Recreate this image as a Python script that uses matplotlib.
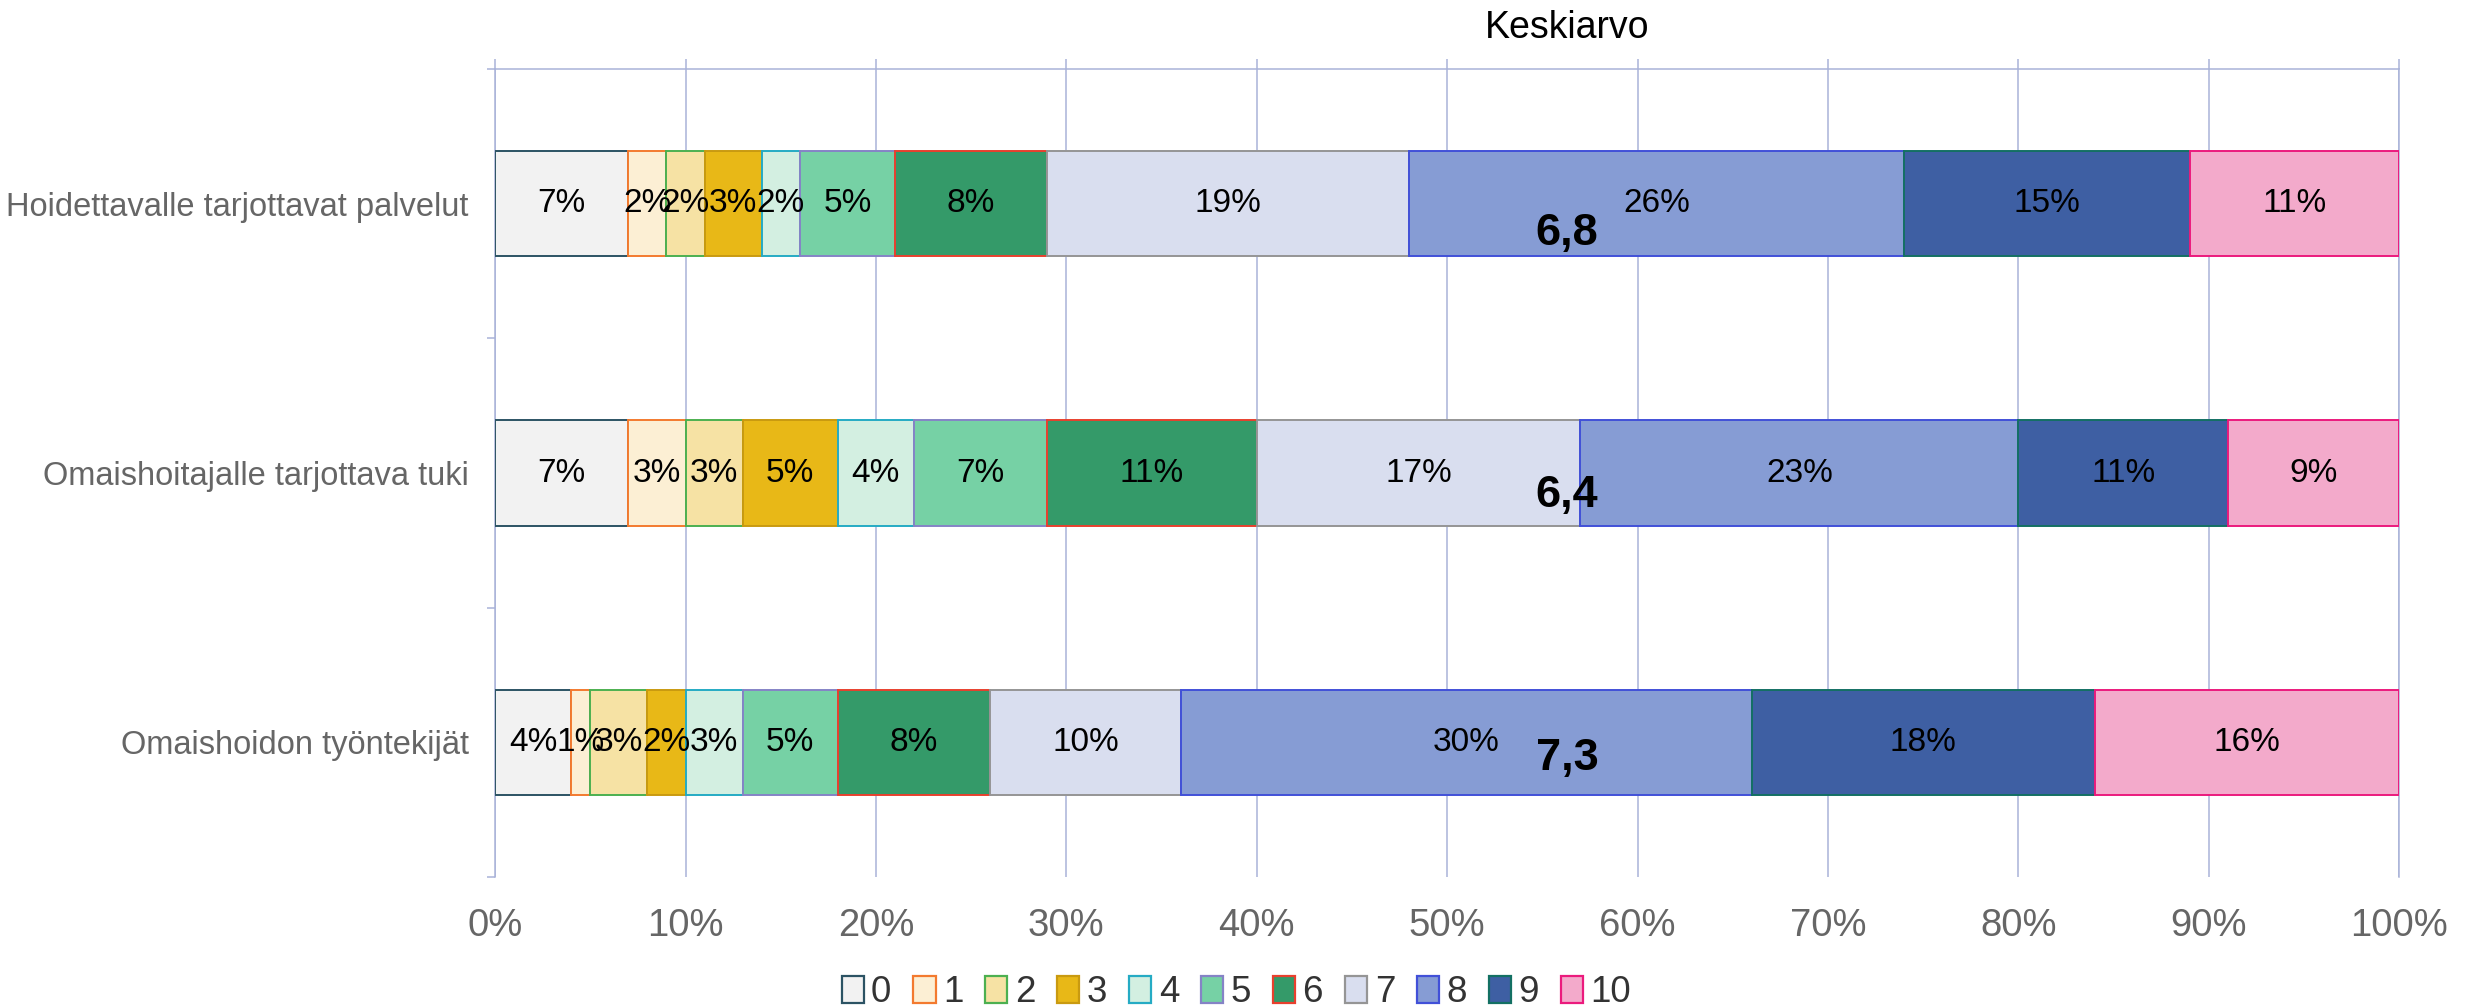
import matplotlib
matplotlib.use("Agg")
import matplotlib.pyplot as plt
import numpy as np
from matplotlib.patches import Patch

categories = [
    "Hoidettavalle tarjottavat palvelut",
    "Omaishoitajalle tarjottava tuki",
    "Omaishoidon työntekijät",
]
scores = ["0", "1", "2", "3", "4", "5", "6", "7", "8", "9", "10"]
# osuudet (%) arvosanoittain, rivit = kategoriat
shares = [
    [7, 2, 2, 3, 2, 5, 8, 19, 26, 15, 11],
    [7, 3, 3, 5, 4, 7, 11, 17, 23, 11, 9],
    [4, 1, 3, 2, 3, 5, 8, 10, 30, 18, 16],
]
means = [6.8, 6.4, 7.3]
x_ticks = [0, 10, 20, 30, 40, 50, 60, 70, 80, 90, 100]

fills = ["#F2F2F2", "#FCEFD4", "#F6E2A4", "#E8B817", "#D3EFE1", "#76D1A5",
         "#349A69", "#D9DEEF", "#869CD4", "#3E5FA3", "#F3AACB"]
edges = ["#2C5364", "#F37A2F", "#4CB050", "#C99A10", "#25ABC4", "#8583C6",
         "#E8402E", "#959595", "#4150D8", "#137063", "#EB1A7D"]
grid_col = "#A9B3D9"
font = "Liberation Sans"

fig = plt.figure(figsize=(24.73, 10.08), dpi=100)
ax = fig.add_axes([0.2002, 0.130, 0.770, 0.8015])

data = np.array(shares, dtype=float)
ypos = np.arange(len(categories))
left = np.zeros(len(categories))
for j, lab in enumerate(scores):
    vals = data[:, j]
    bars = ax.barh(ypos, vals, left=left, height=0.39, color=fills[j],
                   edgecolor=edges[j], linewidth=1.4, label=lab, zorder=3)
    ax.bar_label(bars, labels=[f"{v:.0f}%" for v in vals], label_type="center",
                 fontsize=24, family=font, color="black", zorder=4)
    left += vals

# keskiarvot omaan sarakkeeseensa
mean_x = 56.3
mean_dy = [0.11, 0.085, 0.06]
for i, m in enumerate(means):
    ax.text(mean_x, ypos[i] + mean_dy[i], f"{m:.1f}".replace(".", ","),
            ha="center", va="center", fontsize=32.5, fontweight="bold",
            family=font, color="black", zorder=5)
fig.text(0.6336, 0.972, "Keskiarvo", ha="center", va="center",
         fontsize=27, family=font, color="black")

ax.set_xlim(0, 100)
ax.set_ylim(len(categories) - 0.5, -0.5)
ax.set_xticks(x_ticks)
ax.set_xticklabels([f"{t}%" for t in x_ticks], family=font, fontsize=27.5,
                   color="#666666")
ax.set_yticks(ypos)
ax.set_yticklabels(categories, family=font, fontsize=23.5, color="#666666")
ax.set_yticks(np.arange(len(categories) + 1) - 0.5, minor=True)

ax.grid(axis="x", color=grid_col, linewidth=1.1, zorder=0)
ax.tick_params(axis="x", which="major", bottom=False, top=True, labelbottom=True,
               labeltop=False, length=7, width=1.1, color=grid_col, pad=15)
ax.tick_params(axis="y", which="major", length=0, pad=19)
ax.tick_params(axis="y", which="minor", length=6, width=1.1, color=grid_col)
for side in ["top", "left", "right"]:
    ax.spines[side].set_color(grid_col)
    ax.spines[side].set_linewidth(1.1)
ax.spines["bottom"].set_visible(False)

handles = [Patch(facecolor=fills[j], edgecolor=edges[j], linewidth=1.6)
           for j in range(len(scores))]
fig.legend(handles, scores, loc="center", bbox_to_anchor=(0.5, 0.015), ncol=11,
           frameon=False, prop={"family": font, "size": 26.5}, labelcolor="#333333",
           handlelength=0.6, handleheight=0.75, handletextpad=0.2,
           columnspacing=0.6)

fig.savefig("out.png", dpi=100)
